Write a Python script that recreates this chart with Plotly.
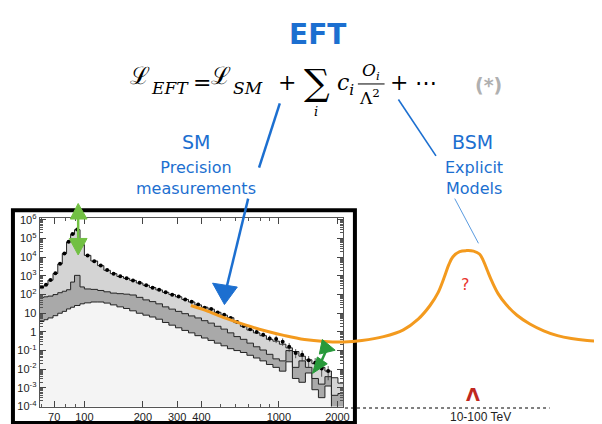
import plotly.graph_objects as go

# ---------------- inset: invariant-mass spectrum (GeV, events) ----------------
bin_edges = [59, 62, 65, 69, 73, 77, 81, 85, 89, 95, 100, 108, 117, 126, 136, 147, 159, 171, 185, 200,
             216, 233, 252, 272, 294, 317, 343, 370, 400, 432, 466, 504, 544, 587, 634, 685, 740, 799,
             863, 932, 1006, 1087, 1174, 1268, 1369, 1479, 1597, 1725, 1863, 2012, 2173, 2350]
total_mc = [257, 324, 589, 1350, 4370, 1.58e4, 6.6e4, 1.7e5, 3.0e5, 4.7e4, 1.26e4, 6300, 3550, 2000, 1320,
            933, 741, 575, 417, 316, 240, 178, 132, 100, 76, 55, 40, 28, 21, 16.6, 11.2, 7.9, 5.75, 3.16,
            2.0, 1.26, 0.89, 0.63, 0.4, 0.32, 0.22, 0.14, 0.089, 0.05, 0.032, 0.02, 0.0126, 0.008, 0.0035,
            0.0018, 0.0011]
mid_mc = [71, 76, 83, 100, 126, 151, 182, 468, 1070, 257, 200, 190, 166, 141, 120, 112, 105, 95, 71, 52,
          42, 32, 22, 16.6, 12.6, 9.5, 7.2, 5.6, 4.0, 2.95, 2.0, 1.41, 0.89, 0.56, 0.4, 0.25, 0.16, 0.107,
          0.063, 0.036, 0.028, 0.1, 0.0126, 0.028, 0.0126, 0.0032, 0.0016, 0.004, 0.0004, 0.0005, 0.00025]
low_mc = [3.6, 4.5, 5.6, 7.4, 10, 12.6, 17, 21, 26, 32, 36, 40, 40, 35, 28, 22, 18, 13.5, 10, 7.9, 6.3,
          4.8, 3.2, 2.3, 1.66, 1.2, 0.89, 0.63, 0.47, 0.35, 0.25, 0.18, 0.126, 0.1, 0.079, 0.056, 0.04,
          0.028, 0.018, 0.0126, 0.0079, 0.025, 0.0032, 0.002, 0.0063, 0.0008, 0.0003, 0.00126, 6e-5, 3e-5, 3e-5]
data_counts = [250, 340, 600, 1400, 4500, 1.6e4, 6.8e4, 1.75e5, 3.1e5, 4.8e4, 1.25e4, 6200, 3600, 2050,
               1300, 950, 760, 560, 430, 320, 235, 180, 135, 98, 78, 54, 41, 29, 20, 17, 11, 8.3, 5.5,
               3.4, 2.1, 1.4, 1.0, 0.7, 0.45, 0.42, 0.3, 0.16, 0.075, 0.06, 0.03, 0.022, 0.011, 0.008]
data_rel_err = [0] * 37 + [0.3, 0.4, 0.5, 0.5, 0.6, 0.6, 0.7, 0.7, 0.8, 0.8, 0.85]

x_tick_vals = [70, 100, 200, 300, 400, 1000, 2000]
x_tick_text = ["70", "100", "200", "300", "400", "1000", "2000"]
y_tick_vals = [1e-4, 1e-3, 1e-2, 1e-1, 1, 10, 1e2, 1e3, 1e4, 1e5, 1e6]
y_tick_text = ["10<sup>-4</sup>", "10<sup>-3</sup>", "10<sup>-2</sup>", "10<sup>-1</sup>", "1", "10",
               "10<sup>2</sup>", "10<sup>3</sup>", "10<sup>4</sup>", "10<sup>5</sup>", "10<sup>6</sup>"]

# ---------------- sketch layer (canvas units = pixels, y downward) ----------------
bsm_curve_x = [185, 200, 220, 240, 260, 280, 300, 320, 340, 358, 380, 400, 415, 427, 435, 441, 446, 450,
               457, 464, 471, 477, 481, 485, 490, 496, 504, 515, 528, 542, 556, 570, 586, 602]
bsm_curve_y = [300, 305, 313, 320, 326, 331, 335, 337, 337.5, 336, 332, 325, 314, 300, 287, 272, 258, 250,
               244.5, 243.5, 244, 247, 254, 264, 276, 288, 299, 310, 319, 326, 331, 334, 336, 337]

W, H = 602, 424
fig = go.Figure()

def step(vals):
    return vals + [vals[-1]]

base = [1e-6] * len(bin_edges)
fig.add_trace(go.Scatter(x=bin_edges, y=base, mode="lines", line=dict(width=0), line_shape="hv",
                         showlegend=False, hoverinfo="skip"))
fig.add_trace(go.Scatter(x=bin_edges, y=step(low_mc), mode="lines", line=dict(color="#222", width=1),
                         line_shape="hv", fill="tonexty", fillcolor="#f4f4f4", showlegend=False))
fig.add_trace(go.Scatter(x=bin_edges, y=step(mid_mc), mode="lines", line=dict(color="#222", width=1),
                         line_shape="hv", fill="tonexty", fillcolor="#a9a9a9", showlegend=False))
fig.add_trace(go.Scatter(x=bin_edges, y=step(total_mc), mode="lines", line=dict(color="#222", width=1),
                         line_shape="hv", fill="tonexty", fillcolor="#d4d4d4", showlegend=False))

centers = [(bin_edges[i] * bin_edges[i + 1]) ** 0.5 for i in range(len(data_counts))]
fig.add_trace(go.Scatter(
    x=centers, y=data_counts, mode="markers", marker=dict(color="black", size=4),
    error_y=dict(type="data", array=[v * r for v, r in zip(data_counts, data_rel_err)],
                 arrayminus=[v * r * 0.8 for v, r in zip(data_counts, data_rel_err)],
                 color="#333", thickness=0.8, width=0),
    showlegend=False))

# orange BSM curve on sketch layer
fig.add_trace(go.Scatter(x=bsm_curve_x, y=bsm_curve_y, xaxis="x2", yaxis="y2", mode="lines",
                         line=dict(color="#f39a1e", width=3, shape="spline"), showlegend=False))

axis_font = dict(family="Liberation Sans", size=11, color="#222")
fig.update_layout(
    width=W, height=H, margin=dict(l=0, r=0, t=0, b=0),
    paper_bgcolor="white", plot_bgcolor="rgba(0,0,0,0)",
    xaxis=dict(type="log", range=[1.77, 3.33], domain=[32 / W, 339 / W], anchor="y",
               tickvals=x_tick_vals, ticktext=x_tick_text, ticks="inside", ticklen=6,
               tickcolor="#444", showline=True, linecolor="#555", linewidth=1, mirror="ticks",
               showgrid=False, zeroline=False, tickfont=axis_font,
               minor=dict(ticks="inside", ticklen=3, dtick="D1", tickcolor="#555", showgrid=False)),
    yaxis=dict(type="log", range=[-4, 6.1], domain=[1 - 404 / H, 1 - 210 / H], anchor="x",
               tickvals=y_tick_vals, ticktext=y_tick_text, ticks="inside", ticklen=6,
               tickcolor="#444", showline=True, linecolor="#555", linewidth=1, mirror="ticks",
               showgrid=False, zeroline=False, tickfont=axis_font,
               minor=dict(ticks="inside", ticklen=3, dtick="D1", tickcolor="#555", showgrid=False)),
    xaxis2=dict(range=[0, W], domain=[0, 1], anchor="y2", visible=False, fixedrange=True),
    yaxis2=dict(range=[H, 0], domain=[0, 1], anchor="x2", visible=False, fixedrange=True),
)

BLUE = "#1c6fd0"
shapes = []
def sk(**kw):
    d = dict(xref="x2", yref="y2")
    d.update(kw)
    shapes.append(d)

# inset frame
sk(type="rect", x0=5, y0=202, x1=351, y1=421, line=dict(color="black", width=4), layer="below")
# SM arrow
sk(type="line", x0=275, y0=92, x1=254, y1=158, line=dict(color=BLUE, width=2.5))
sk(type="line", x0=243, y0=190, x1=221, y1=282, line=dict(color=BLUE, width=2.5))
sk(type="path", path="M 207 277 L 232 281 L 219 299 Z", fillcolor=BLUE, line=dict(color=BLUE, width=1))
# BSM line
sk(type="line", x0=395, y0=88, x1=433, y1=146, line=dict(color=BLUE, width=1.6))
sk(type="line", x0=452, y0=190, x1=476, y1=236, line=dict(color="#5a9be0", width=1))
# light green double arrow (Z peak)
LG = "#72c043"
sk(type="line", x0=71, y0=205, x1=71, y1=236, line=dict(color=LG, width=2.5))
sk(type="path", path="M 63 211 L 80 211 L 71 195 Z", fillcolor=LG, line=dict(color=LG, width=1))
sk(type="path", path="M 62 231 L 80 231 L 71 248 Z", fillcolor=LG, line=dict(color=LG, width=1))
# dark green double arrow (tail)
DG = "#27993a"
sk(type="line", x0=323, y0=344, x1=315, y1=362, line=dict(color=DG, width=2.5))
sk(type="path", path="M 318 335 L 331 346 L 315 350 Z", fillcolor=DG, line=dict(color=DG, width=1))
sk(type="path", path="M 313 353 L 323 360 L 308 370 Z", fillcolor=DG, line=dict(color=DG, width=1))
# fraction bar
sk(type="line", x0=354, y0=72, x1=381, y1=72, line=dict(color="black", width=1))
# Lambda scale dashed line
sk(type="line", x0=341, y0=405.5, x1=548, y1=405.5, line=dict(color="black", width=1.2, dash="dot"))
fig.update_layout(shapes=shapes)

anns = []
def ann(x, y, text, size, color="black", family="DejaVu Sans", xanchor="center"):
    anns.append(dict(x=x, y=y, xref="x2", yref="y2", text=text, showarrow=False,
                     font=dict(size=size, color=color, family=family), xanchor=xanchor,
                     yanchor="middle"))

SERIF = "DejaVu Serif"
ann(313, 21, "<b>EFT</b>", 28, BLUE)
# L_EFT = L_SM + sum_i c_i O_i / Lambda^2 + ...
ann(134, 64, "ℒ", 24, family=SERIF)
ann(143, 76, "<i>EFT</i>", 17, family=SERIF, xanchor="left")
ann(196, 70, "=", 22, family=SERIF)
ann(216, 64, "ℒ", 24, family=SERIF)
ann(226, 76, "<i>SM</i>", 17, family=SERIF, xanchor="left")
ann(282, 70, "+", 22, family=SERIF)
ann(313, 70, "∑", 36, family=SERIF)
ann(312, 100, "<i>i</i>", 13, family=SERIF)
ann(331, 73, "<i>c</i><sub><i>i</i></sub>", 22, family=SERIF, xanchor="left")
ann(367, 59, "<i>O</i><sub><i>i</i></sub>", 17, family=SERIF)
ann(366, 85, "Λ<sup>2</sup>", 17, family=SERIF)
ann(396, 71, "+", 22, family=SERIF)
ann(423, 71, "⋯", 22, family=SERIF)
ann(486, 73, "<b>(*)</b>", 19, "#b0b0b0")
ann(190, 132, "SM", 19, BLUE)
ann(190, 169, "Precision<br>measurements", 16, BLUE)
ann(470, 132, "BSM", 19, BLUE)
ann(471, 169, "Explicit<br>Models", 16, BLUE)
ann(463, 278, "?", 16, "#e8352c")
ann(470, 392, "<b>Λ</b>", 18, "#c0281f")
ann(478, 415, "10-100 TeV", 12, "#222", family="Liberation Sans")
fig.update_layout(annotations=anns)

fig.write_html("out.html")
